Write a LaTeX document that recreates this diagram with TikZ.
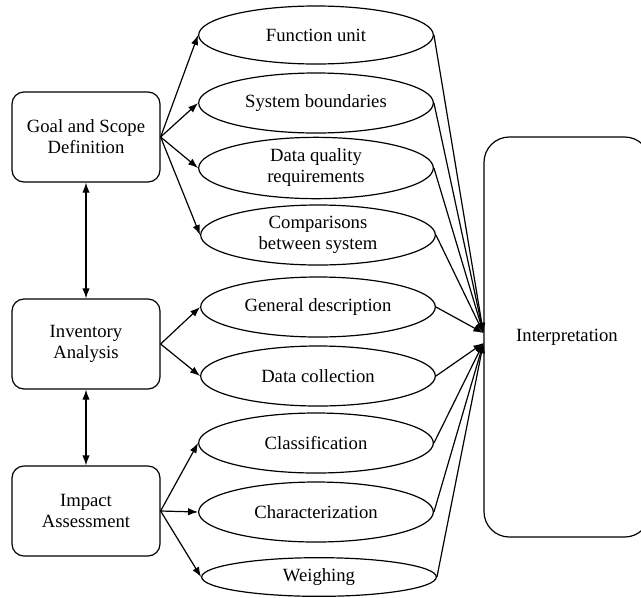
\documentclass[tikz,border=0pt]{standalone}
\usepackage{fontspec}
\setmainfont{Liberation Serif}
\usetikzlibrary{arrows.meta, shapes.geometric}

\begin{document}
\begin{tikzpicture}[x=0.75pt, y=-0.75pt, line width=0.9pt, >={Latex[length=7.5pt, width=5.5pt]},
    every node/.style={font=\fontsize{14}{15.75}\selectfont},
    stage/.style={draw, rounded corners=9pt, minimum width=111pt, minimum height=67.5pt, align=center, inner sep=0pt},
    item/.style={draw, ellipse, minimum width=176pt, minimum height=45pt, align=center, inner sep=0pt}]
    \useasboundingbox (0,0) rectangle (641,597);

    \node[stage] (goal) at (86,137) {Goal and Scope\\Definition};
    \node[stage] (inv) at (86,344) {Inventory\\Analysis};
    \node[stage] (imp) at (86,511) {Impact\\Assessment};

    \node[item, minimum height=43.5pt] (fu) at (316,35) {Function unit};
    \node[item] (sb) at (316,103) {System boundaries};
    \node[item, minimum height=46pt] (dq) at (316,168) {Data quality\\requirements};
    \node[item] (cb) at (318,235) {Comparisons\\between system};
    \node[item] (gd) at (318,307) {General description};
    \node[item] (dc) at (318,376) {Data collection};
    \node[item] (cl) at (316,443) {Classification};
    \node[item] (ch) at (316,512) {Characterization};
    \node[item, minimum height=29pt] (we) at (319,577) {Weighing};

    \node[draw, rounded corners=19pt, minimum width=124.5pt, minimum height=300pt] (interp) at (567,337) {Interpretation};
    \coordinate (inup) at ([yshift=3pt]interp.west);
    \coordinate (indn) at ([yshift=-4.5pt]interp.west);

    \draw[<->] (goal) -- (inv);
    \draw[<->] (inv) -- (imp);

    \draw[->] (goal.east) -- (fu.west);
    \draw[->] (goal.east) -- (sb.west);
    \draw[->] (goal.east) -- (dq.west);
    \draw[->] (goal.east) -- (cb.west);
    \draw[->] (inv.east) -- (gd.west);
    \draw[->] (inv.east) -- (dc.west);
    \draw[->] (imp.east) -- (cl.west);
    \draw[->] (imp.east) -- (ch.west);
    \draw[->] (imp.east) -- (we.west);

    \draw[->] (fu.east) -- (inup);
    \draw[->] (sb.east) -- (inup);
    \draw[->] (dq.east) -- (inup);
    \draw[->] (cb.east) -- (inup);
    \draw[->] (gd.east) -- (inup);
    \draw[->] (dc.east) -- (indn);
    \draw[->] (cl.east) -- (indn);
    \draw[->] (ch.east) -- (indn);
    \draw[->] (we.east) -- (indn);
\end{tikzpicture}
\end{document}
